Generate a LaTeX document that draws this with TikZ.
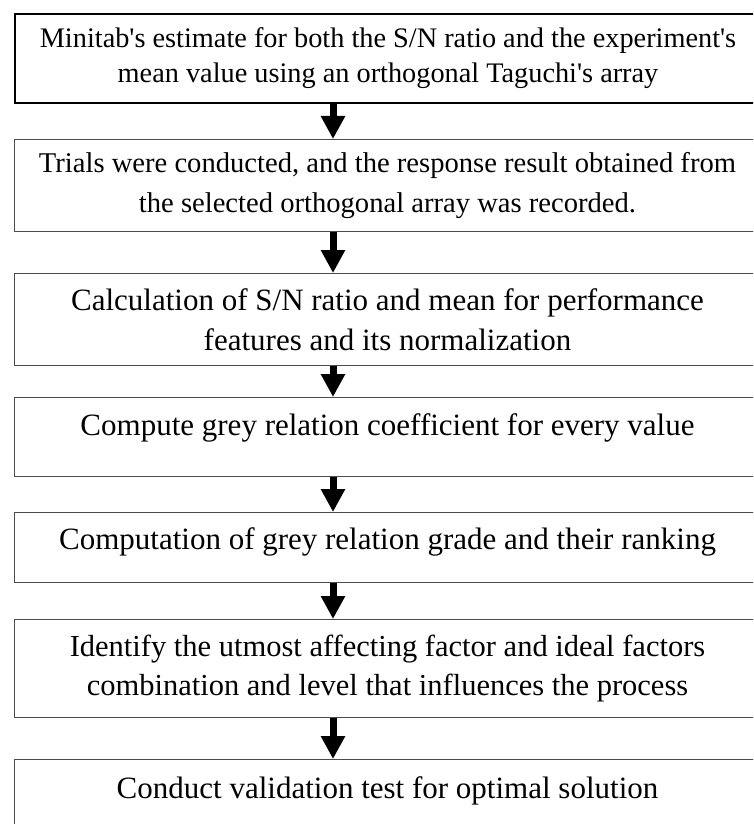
\documentclass[tikz,border=0pt]{standalone}
\usepackage{fontspec}
\setmainfont{Liberation Serif}[Ligatures=TeXOff]
\usetikzlibrary{arrows.meta}

\tikzset{
  stage/.style={draw=black!70, line width=1pt, anchor=north west,
    minimum width=746pt, inner sep=0pt},
  firststage/.style={stage, draw=black, line width=2pt},
  twoline/.style={align=center},
  flow/.style={line width=7pt, -{Triangle[length=23pt,width=23pt]}},
}

\begin{document}
\begin{tikzpicture}[x=1pt,y=-1pt]
  \useasboundingbox (0,0) rectangle (753,824);
  \clip (0,0) rectangle (753,824);

  \node[firststage, twoline, minimum height=89pt,
        font=\fontsize{28.3}{35}\selectfont] (minitab) at (14,13)
    {Minitab's estimate for both the S/N ratio and the experiment's\\
     mean value using an orthogonal Taguchi's array};
  \node[stage, twoline, minimum height=92pt,
        font=\fontsize{28.6}{40}\selectfont] (trials) at (14,139)
    {Trials were conducted, and the response result obtained from\\
     the selected orthogonal array was recorded.};
  \node[stage, twoline, minimum height=92pt,
        font=\fontsize{31}{40}\selectfont] (snratio) at (14,273)
    {Calculation of S/N ratio and mean for performance\\
     features and its normalization};
  \node[stage, text height=38pt, text depth=41pt,
        font=\fontsize{31}{40}\selectfont] (coeff) at (14,397)
    {Compute grey relation coefficient for every value};
  \node[stage, text height=37pt, text depth=33pt,
        font=\fontsize{31}{40}\selectfont] (grade) at (14,512)
    {Computation of grey relation grade and their ranking};
  \node[stage, twoline, minimum height=98pt,
        font=\fontsize{30.5}{39}\selectfont] (factor) at (14,619)
    {Identify the utmost affecting factor and ideal factors\\
     combination and level that influences the process};
  \node[stage, text height=39pt, text depth=60pt,
        font=\fontsize{31}{40}\selectfont] (valid) at (14,759)
    {Conduct validation test for optimal solution};

  \coordinate (ax) at (333,0);
  \draw[flow] (minitab.south -| ax) -- (trials.north -| ax);
  \draw[flow] (trials.south -| ax) -- (snratio.north -| ax);
  \draw[flow] (snratio.south -| ax) -- (coeff.north -| ax);
  \draw[flow] (coeff.south -| ax) -- (grade.north -| ax);
  \draw[flow] (grade.south -| ax) -- (factor.north -| ax);
  \draw[flow] (factor.south -| ax) -- (valid.north -| ax);
\end{tikzpicture}
\end{document}
